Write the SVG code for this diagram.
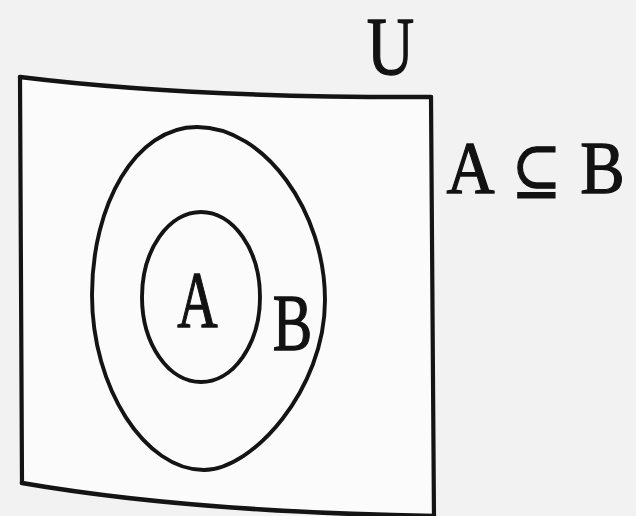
<svg xmlns="http://www.w3.org/2000/svg" width="636" height="516" viewBox="0 0 636 516">
  <style>
    .ln { fill: none; stroke: #141414; stroke-linecap: round; stroke-linejoin: round; }
    .lbl { fill: #121212; stroke: #121212; stroke-width: 1.3; text-anchor: middle; font-family: 'Liberation Serif', 'DejaVu Serif', 'Times New Roman', serif; }
  </style>
  <rect x="0" y="0" width="636" height="516" fill="#f3f2f3"/>
  <g id="universe">
    <path d="M20,77 Q200,97 431,97 L434,520 L433,516 Q200,510 22,483 Z" fill="#fbfbfb" stroke="none"/>
    <path class="ln" stroke-width="4.4" d="M20,77 Q190,98 431,97"/>
    <path class="ln" stroke-width="4.2" d="M20,77 L22,483"/>
    <path class="ln" stroke-width="4.6" d="M22,483 Q190,512 434,516"/>
    <path class="ln" stroke-width="4.2" d="M431,97 L434,520"/>
    <text class="lbl" font-size="82" transform="translate(390.5,74) scale(0.8,1)">U</text>
  </g>
  <g id="set-B">
    <path class="ln" stroke-width="3.9" d="M197,127 C265,127 325,212 325,300 C325,390 252,470 204,470 C145,470 92,388 92,295 C92,205 135,127 197,127 Z"/>
    <text class="lbl" font-size="80" transform="translate(292.5,350) scale(0.74,1)">B</text>
  </g>
  <g id="set-A">
    <ellipse class="ln" stroke-width="3.9" cx="201" cy="297" rx="59" ry="85"/>
    <text class="lbl" font-size="80" transform="translate(197.5,327) scale(0.7,1)">A</text>
  </g>
  <g id="relation">
    <text class="lbl" font-size="74" transform="translate(0,193) scale(0.9,1)"><tspan x="522.8">A</tspan><tspan x="596.1" font-size="66">⊆</tspan><tspan x="669.4">B</tspan></text>
  </g>
</svg>
